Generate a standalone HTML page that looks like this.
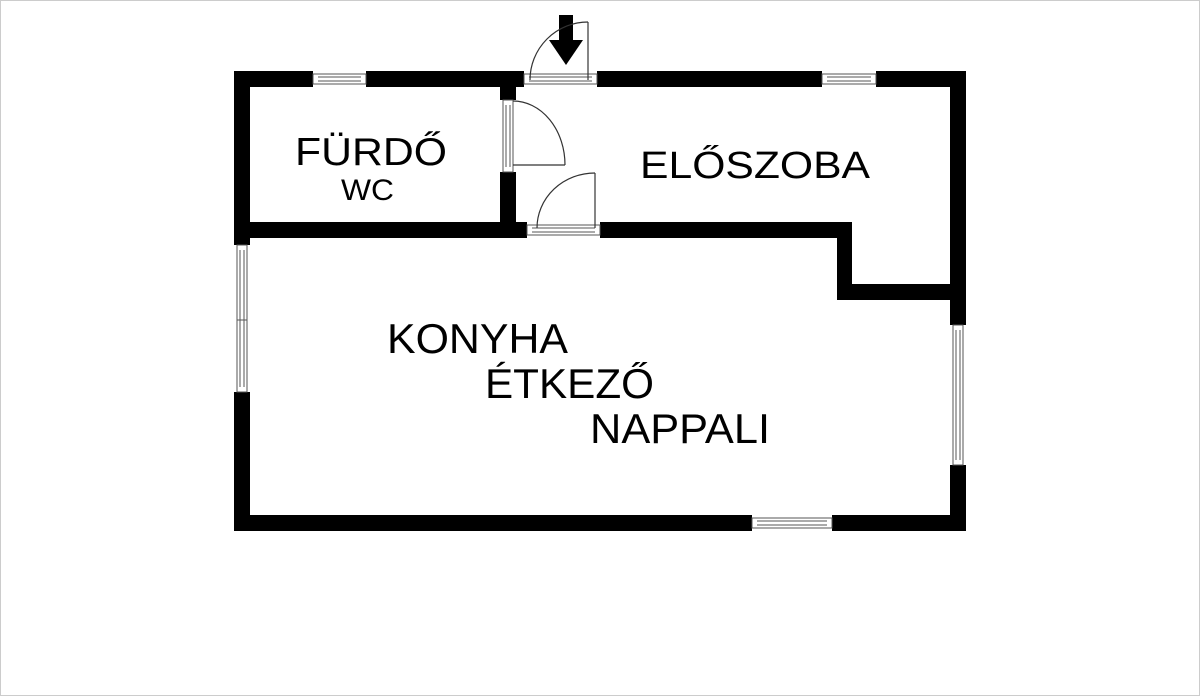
<!DOCTYPE html>
<html><head><meta charset="utf-8"><style>
html,body{margin:0;padding:0;background:#fff;width:1200px;height:696px;overflow:hidden}
svg{display:block}
text{font-family:"Liberation Sans",sans-serif;fill:#000}
</style></head><body>
<svg width="1200" height="696" viewBox="0 0 1200 696">
<rect x="0.5" y="0.5" width="1199" height="695" fill="#fff" stroke="#ccc"/>
<g fill="#000">
<rect x="234" y="71" width="79" height="16"/>
<rect x="366" y="71" width="158" height="16"/>
<rect x="597" y="71" width="225" height="16"/>
<rect x="876" y="71" width="90" height="16"/>
<rect x="950" y="71" width="16" height="254"/>
<rect x="950" y="465" width="16" height="66"/>
<rect x="234" y="515" width="518" height="16"/>
<rect x="832" y="515" width="134" height="16"/>
<rect x="234" y="71" width="16" height="174"/>
<rect x="234" y="392" width="16" height="139"/>
<rect x="234" y="222" width="293" height="16"/>
<rect x="600" y="222" width="252" height="16"/>
<rect x="837" y="222" width="15" height="78"/>
<rect x="837" y="284" width="115" height="16"/>
<rect x="500" y="71" width="16" height="29"/>
<rect x="500" y="172" width="16" height="66"/>
<rect x="559" y="15" width="14" height="26"/>
<polygon points="549,40 583,40 566,65"/>
</g>
<g fill="#fff" stroke="#555" stroke-width="1">
<rect x="313" y="74" width="53" height="10"/>
<line x1="318" y1="77" x2="361" y2="77"/><line x1="318" y1="81" x2="361" y2="81"/>
<rect x="822" y="74" width="54" height="10"/>
<line x1="827" y1="77" x2="871" y2="77"/><line x1="827" y1="81" x2="871" y2="81"/>
<rect x="752" y="518" width="80" height="10"/>
<line x1="757" y1="521" x2="827" y2="521"/><line x1="757" y1="525" x2="827" y2="525"/>
<rect x="524" y="74" width="73" height="10"/>
<line x1="529" y1="77" x2="592" y2="77"/><line x1="529" y1="81" x2="592" y2="81"/>
<rect x="527" y="225" width="73" height="10"/>
<line x1="532" y1="228" x2="595" y2="228"/><line x1="532" y1="232" x2="595" y2="232"/>
<rect x="237" y="245" width="10" height="147"/>
<line x1="240" y1="250" x2="240" y2="387"/><line x1="244" y1="250" x2="244" y2="387"/>
<line x1="237" y1="320" x2="247" y2="320"/>
<rect x="953" y="325" width="10" height="140"/>
<line x1="956" y1="330" x2="956" y2="460"/><line x1="960" y1="330" x2="960" y2="460"/>
<rect x="503" y="100" width="10" height="72"/>
<line x1="506" y1="105" x2="506" y2="167"/><line x1="510" y1="105" x2="510" y2="167"/>
</g>
<g fill="none" stroke="#333" stroke-width="1.2">
<line x1="588" y1="80" x2="588" y2="22"/>
<path d="M588,22 A58,58 0 0 0 530,80"/>
<line x1="513" y1="165" x2="565" y2="165"/>
<path d="M513,101 A52,64 0 0 1 565,165"/>
<line x1="595" y1="228" x2="595" y2="173"/>
<path d="M595,173 A58,55 0 0 0 537,228"/>
</g>
<text x="295" y="165" font-size="39" textLength="152" lengthAdjust="spacingAndGlyphs">FÜRDŐ</text>
<text x="341" y="200" font-size="30" textLength="53" lengthAdjust="spacingAndGlyphs">WC</text>
<text x="640" y="178" font-size="38" textLength="230" lengthAdjust="spacingAndGlyphs">ELŐSZOBA</text>
<text x="387" y="353" font-size="42" textLength="181" lengthAdjust="spacingAndGlyphs">KONYHA</text>
<text x="485" y="398" font-size="42" textLength="169" lengthAdjust="spacingAndGlyphs">ÉTKEZŐ</text>
<text x="590" y="443" font-size="42" textLength="180" lengthAdjust="spacingAndGlyphs">NAPPALI</text>
</svg>
</body></html>
